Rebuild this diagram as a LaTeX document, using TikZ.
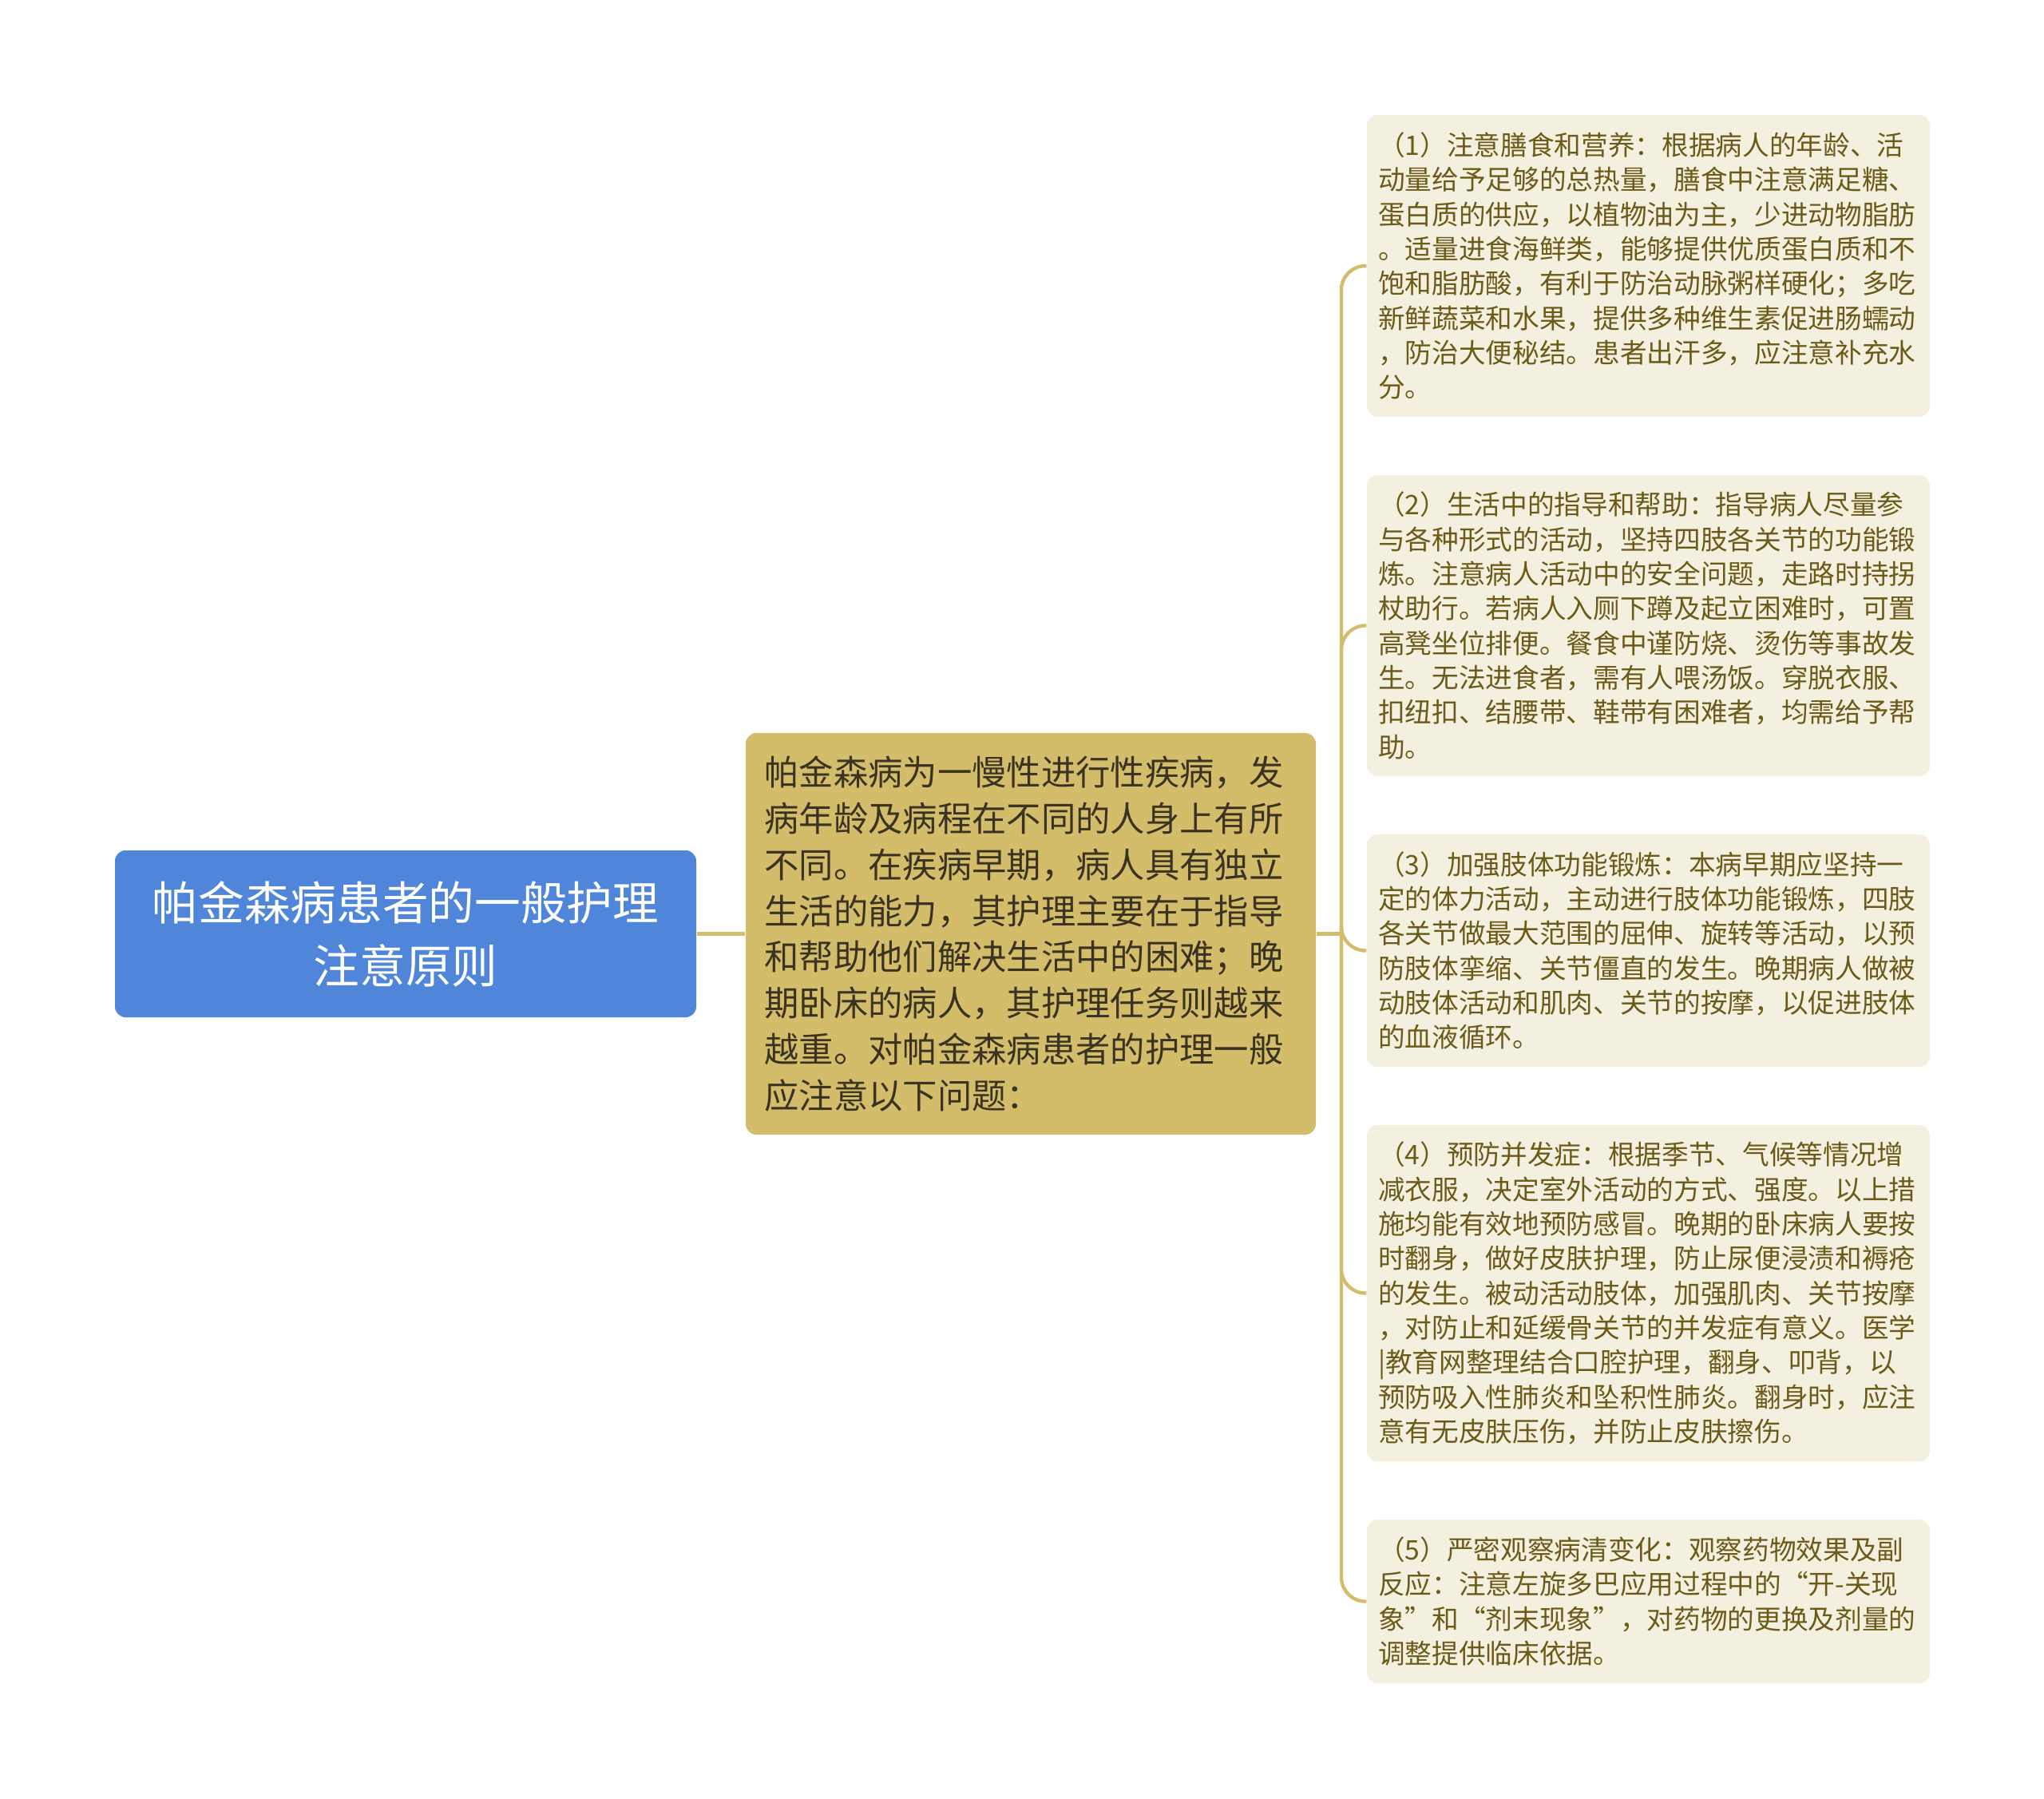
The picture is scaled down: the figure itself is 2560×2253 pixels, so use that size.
\documentclass[tikz,border=0pt]{standalone}
\usepackage{fontspec}
\setmainfont{Noto Sans CJK SC}
\definecolor{rootblue}{HTML}{4F86DA}
\definecolor{midgold}{HTML}{D4BD6A}
\definecolor{midtext}{HTML}{3A3322}
\definecolor{leafbg}{HTML}{F4F0E0}
\definecolor{leaftext}{HTML}{6B5A18}
\definecolor{linegold}{HTML}{D4BD6A}
\begin{document}
\begin{tikzpicture}[x=0.3pt,y=-0.3pt,
  conn/.style={draw=linegold,line width=1.3pt,rounded corners=9pt},
  rootbox/.style={fill=rootblue,rounded corners=4pt,text=white,font=\fontsize{17.3pt}{23.7pt}\selectfont,align=center,minimum width=218.4pt,minimum height=62.7pt,inner sep=0pt},
  midbox/.style={fill=midgold,rounded corners=4pt,text=midtext,font=\fontsize{13pt}{17.35pt}\selectfont,align=left,text width=200.2pt,minimum height=150.9pt,inner xsep=7pt,inner ysep=0pt},
  leafbox/.style={fill=leafbg,rounded corners=4pt,text=leaftext,font=\fontsize{10.1pt}{13pt}\selectfont,align=left,text width=203pt,inner xsep=4.25pt,inner ysep=0pt}
]
\fill[white] (0,0) rectangle (2560,2253);
\useasboundingbox (0,0) rectangle (2560,2253);

\node[rootbox] (root) at (508,1169.5) {帕金森病患者的一般护理\\注意原则};

\node[midbox] (mid) at (1291,1169.5) {帕金森病为一慢性进行性疾病，发\\
病年龄及病程在不同的人身上有所\\
不同。在疾病早期，病人具有独立\\
生活的能力，其护理主要在于指导\\
和帮助他们解决生活中的困难；晚\\
期卧床的病人，其护理任务则越来\\
越重。对帕金森病患者的护理一般\\
应注意以下问题：};

\node[leafbox,minimum height=113.4pt] (l1) at (2064.5,333) {（1）注意膳食和营养：根据病人的年龄、活\\
动量给予足够的总热量，膳食中注意满足糖、\\
蛋白质的供应，以植物油为主，少进动物脂肪\\
。适量进食海鲜类，能够提供优质蛋白质和不\\
饱和脂肪酸，有利于防治动脉粥样硬化；多吃\\
新鲜蔬菜和水果，提供多种维生素促进肠蠕动\\
，防治大便秘结。患者出汗多，应注意补充水\\
分。};

\node[leafbox,minimum height=113.1pt] (l2) at (2064.5,783.5) {（2）生活中的指导和帮助：指导病人尽量参\\
与各种形式的活动，坚持四肢各关节的功能锻\\
炼。注意病人活动中的安全问题，走路时持拐\\
杖助行。若病人入厕下蹲及起立困难时，可置\\
高凳坐位排便。餐食中谨防烧、烫伤等事故发\\
生。无法进食者，需有人喂汤饭。穿脱衣服、\\
扣纽扣、结腰带、鞋带有困难者，均需给予帮\\
助。};

\node[leafbox,minimum height=87.3pt] (l3) at (2064.5,1190.5) {（3）加强肢体功能锻炼：本病早期应坚持一\\
定的体力活动，主动进行肢体功能锻炼，四肢\\
各关节做最大范围的屈伸、旋转等活动，以预\\
防肢体挛缩、关节僵直的发生。晚期病人做被\\
动肢体活动和肌肉、关节的按摩，以促进肢体\\
的血液循环。};

\node[leafbox,minimum height=126.3pt] (l4) at (2064.5,1619.5) {（4）预防并发症：根据季节、气候等情况增\\
减衣服，决定室外活动的方式、强度。以上措\\
施均能有效地预防感冒。晚期的卧床病人要按\\
时翻身，做好皮肤护理，防止尿便浸渍和褥疮\\
的发生。被动活动肢体，加强肌肉、关节按摩\\
，对防止和延缓骨关节的并发症有意义。医学\\
|教育网整理结合口腔护理，翻身、叩背，以\\
预防吸入性肺炎和坠积性肺炎。翻身时，应注\\
意有无皮肤压伤，并防止皮肤擦伤。};

\node[leafbox,minimum height=61.5pt] (l5) at (2064.5,2005.5) {（5）严密观察病清变化：观察药物效果及副\\
反应：注意左旋多巴应用过程中的“开-关现\\
象”和“剂末现象”，对药物的更换及剂量的\\
调整提供临床依据。};

\coordinate (trunk) at (1680,1169.5);
\draw[conn] (root.east) -- (mid.west);
\draw[conn] (mid.east) -- (trunk);
\foreach \n in {l1,l2,l3,l4,l5}{
  \draw[conn] (trunk) |- (\n.west);
}
\end{tikzpicture}
\end{document}
